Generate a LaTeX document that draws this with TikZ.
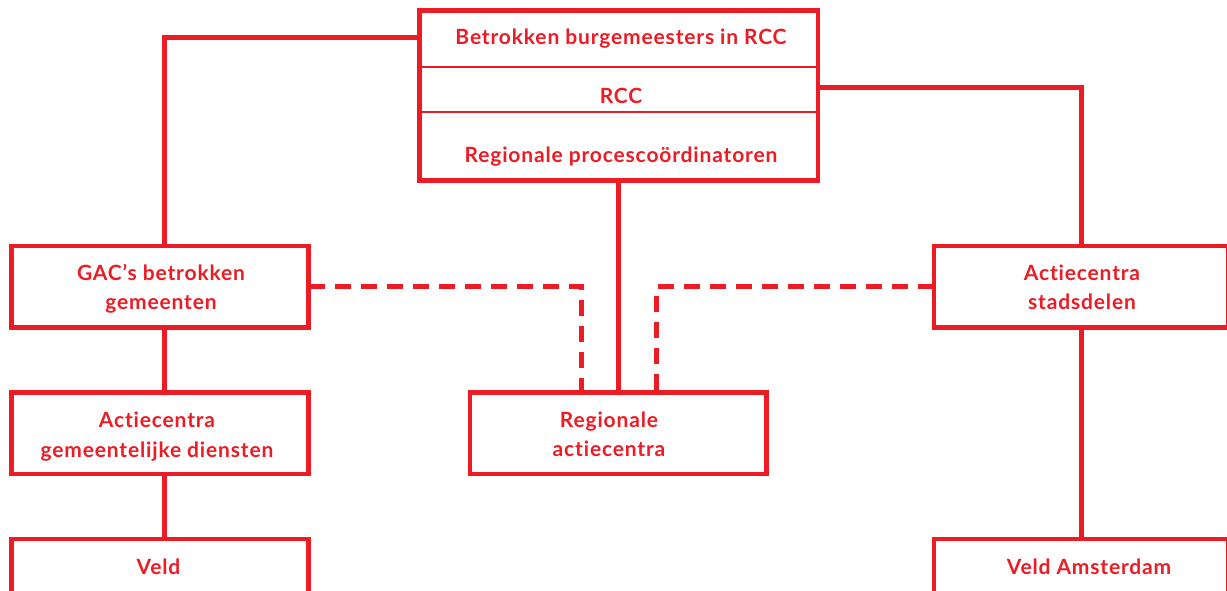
\documentclass[tikz,border=0pt]{standalone}
\usepackage{fontspec}
\setmainfont{Lato}[LetterSpace=4,Ligatures={NoCommon}]
\definecolor{rd}{RGB}{237,28,36}
\newcommand\twolines[2]{\begin{tabular}[t]{@{}c@{}}#1\\#2\end{tabular}}
\begin{document}
\begin{tikzpicture}[x=1pt,y=-1pt,
  rect/.style={draw=rd, line width=4.8pt, inner sep=0pt, outer sep=0pt, minimum height=81.5pt},
  txt/.style={text=rd, inner sep=0pt, anchor=base, font=\bfseries\fontsize{21}{29.5}\selectfont},
  link/.style={draw=rd, line width=5pt},
  dlink/.style={link, dash pattern=on 16pt off 10pt},
  divider/.style={draw=rd, line width=2.2pt}]
\useasboundingbox (0,0) rectangle (1227,591);
\clip (0,0) rectangle (1227,591);
% boxes
\node[rect, minimum width=398.5pt, minimum height=170pt] (top) at (618.75,95.5) {};
\node[rect, minimum width=297pt] (gac) at (160,286.75) {};
\node[rect, minimum width=297pt] (acg) at (160,433.25) {};
\node[rect, minimum width=297pt, minimum height=55pt] (veld) at (160,566.5) {};
\node[rect, minimum width=296.5pt] (ra) at (618.25,433.25) {};
\node[rect, minimum width=294pt] (acs) at (1081,286.75) {};
\node[rect, minimum width=294pt, minimum height=55pt] (veldA) at (1081,566.5) {};
% dividers in top box
\draw[divider] ([yshift=-56.2pt]top.north west) -- ([yshift=-56.2pt]top.north east);
\draw[divider] ([yshift=-101.2pt]top.north west) -- ([yshift=-101.2pt]top.north east);
% texts
\node[txt] (t1) at (621,45) {Betrokken burgemeesters in RCC};
\node[txt] (t2) at (621,104) {RCC};
\node[txt] (t3) at (621,163) {Regionale procescoördinatoren};
\node[txt] (tgac) at (161,280) {\twolines{GAC’s betrokken}{gemeenten}};
\node[txt] (tacg) at (157,427.5) {\twolines{Actiecentra}{gemeentelijke diensten}};
\node[txt] (tveld) at (158.5,574) {Veld};
\node[txt] (tra) at (609,427) {\twolines{Regionale}{actiecentra}};
\node[txt] (tacs) at (1082,280) {\twolines{Actiecentra}{stadsdelen}};
\node[txt] (tveldA) at (1089,574) {Veld Amsterdam};
% connectors
\draw[link] ([yshift=-26.8pt]top.north west) -| ([xshift=4pt]gac.north);
\draw[link] ([yshift=-77pt]top.north east) -| (acs.north);
\draw[link] (top.south) -- (top.south |- ra.north);
\draw[link] ([xshift=4pt]gac.south) -- ([xshift=4pt]acg.north);
\draw[link] ([xshift=4pt]acg.south) -- ([xshift=4pt]veld.north);
\draw[link] (acs.south) -- (veldA.north);
\draw[dlink] (gac.east) -| ([xshift=-37pt]ra.north);
\draw[dlink] (acs.west) -| ([xshift=38.5pt]ra.north);
\end{tikzpicture}
\end{document}
